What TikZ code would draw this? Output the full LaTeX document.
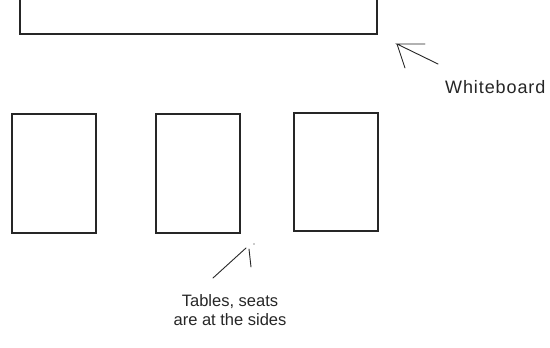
\documentclass[tikz,border=0pt]{standalone}
\usepackage{fontspec}
\setmainfont{Liberation Sans}
\begin{document}
\begin{tikzpicture}[x=1pt,y=-1pt,
  outline/.style={draw=black!85,line width=1.3pt},
  pointer/.style={draw=black!85,line width=0.9pt,line cap=round},
  caption/.style={font=\fontsize{16.5}{19}\selectfont,inner sep=0pt,text=black!85}]
\useasboundingbox[fill=white] (0,0) rectangle (550,348);
% whiteboard along the top wall
\draw[outline] (20,0) -- (20,34) -- (377,34) -- (377,0);
% three tables
\node[outline,minimum width=84pt,minimum height=119pt,inner sep=0pt] (t1) at (54,173.5) {};
\node[outline,minimum width=84pt,minimum height=119pt,inner sep=0pt] (t2) at (198,173.5) {};
\node[outline,minimum width=84pt,minimum height=118pt,inner sep=0pt] (t3) at (336,172) {};
% labels
\node[caption,anchor=base west] (wb) at (445,93) {\fontsize{18}{20}\selectfont\addfontfeature{LetterSpace=5}Whiteboard};
\node[caption,align=center,anchor=north] (tl) at (230,294) {Tables, seats\\are at the sides};
% pointer to the whiteboard
\coordinate (wbtip) at (397,44);
\coordinate (wbtail) at (438,64);
\draw[pointer] (wbtail) -- (wbtip) -- (425,44);
\draw[pointer] (wbtip) -- (405,68);
% pointer to the tables
\coordinate (tbtail) at (213,278);
\coordinate (tbtip) at (246,248);
\draw[pointer] (tbtail) -- (tbtip);
\draw[pointer] (249,249) -- (251,267);
\fill[black!85] (254,244) circle (0.7pt);
\end{tikzpicture}
\end{document}
